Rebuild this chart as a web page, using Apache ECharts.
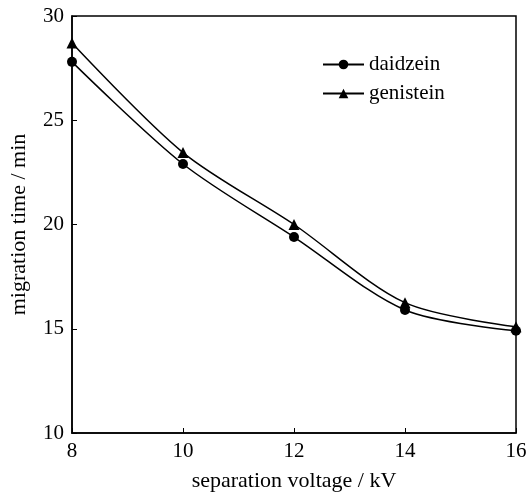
<!DOCTYPE html>
<html>
<head>
<meta charset="utf-8">
<script src="https://cdn.jsdelivr.net/npm/echarts@6/dist/echarts.min.js"></script>
<style>html,body{margin:0;padding:0;background:#fff}#c{width:529px;height:493px}</style>
</head>
<body>
<div id="c"></div>
<script>
var voltages = [8, 10, 12, 14, 16];
var daidzein = [27.8, 22.9, 19.4, 15.9, 14.9];
var genistein = [28.7, 23.45, 20.0, 16.25, 15.1];
var yTicks = [10, 15, 20, 25, 30];

var font = 'Liberation Serif';
function pairs(xs, ys){ return xs.map(function(x,i){return [x, ys[i]];}); }

var chart = echarts.init(document.getElementById('c'));
chart.setOption({
  animation: false,
  backgroundColor: '#fff',
  grid: {left: 72, right: 13, top: 16, bottom: 60, containLabel: false, outerBoundsMode: 'none',
         show: true, borderColor: '#000', borderWidth: 1.5},
  legend: {
    left: 317, top: 49, orient: 'vertical', itemGap: 8, itemWidth: 41, itemHeight: 12,
    textStyle: {fontFamily: font, fontSize: 21, color: '#000'},
    data: ['daidzein', 'genistein']
  },
  xAxis: {
    type: 'value', min: 8, max: 16, interval: 2,
    name: 'separation voltage / kV', nameLocation: 'middle', nameGap: 37,
    nameTextStyle: {fontFamily: font, fontSize: 22, color: '#000'},
    axisLine: {lineStyle: {color: '#000', width: 1.5}},
    axisTick: {inside: true, length: 5, lineStyle: {color: '#000'}},
    axisLabel: {fontFamily: font, fontSize: 21, color: '#000', margin: 8},
    splitLine: {show: false}
  },
  yAxis: {
    type: 'value', min: yTicks[0], max: yTicks[yTicks.length-1], interval: 5,
    name: 'migration time / min', nameLocation: 'middle', nameGap: 42,
    nameTextStyle: {fontFamily: font, fontSize: 22, color: '#000'},
    axisLine: {lineStyle: {color: '#000', width: 1.5}},
    axisTick: {inside: true, length: 5, lineStyle: {color: '#000'}},
    axisLabel: {fontFamily: font, fontSize: 21, color: '#000', margin: 8},
    splitLine: {show: false}
  },
  series: [
    {name: 'daidzein', type: 'line', data: pairs(voltages, daidzein), smooth: 0.3,
     symbol: 'circle', symbolSize: 10, itemStyle: {color: '#000'},
     lineStyle: {color: '#000', width: 1.5}},
    {name: 'genistein', type: 'line', data: pairs(voltages, genistein), smooth: 0.3,
     symbol: 'triangle', symbolSize: 11, itemStyle: {color: '#000'},
     lineStyle: {color: '#000', width: 1.5}}
  ]
});
</script>
</body>
</html>
